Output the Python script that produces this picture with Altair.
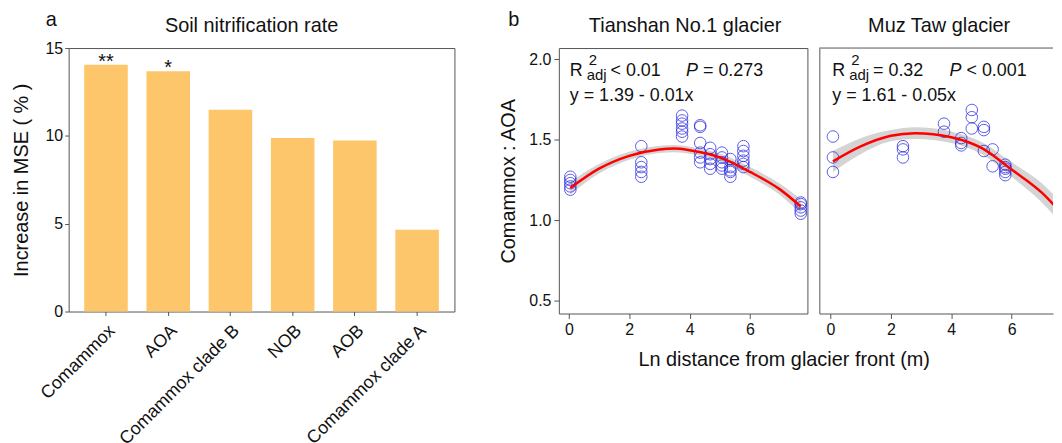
import altair as alt
import pandas as pd

FONT = "Liberation Sans"
FRAME = "#555555"
INK = "#111111"

# ---------------- panel a data ----------------
categories = ["Comammox", "AOA", "Comammox clade B", "NOB", "AOB", "Comammox clade A"]
mse_increase = [14.05, 13.68, 11.48, 9.88, 9.73, 4.65]
significance = ["**", "*", "", "", "", ""]

# ---------------- panel b data ----------------
ts_dist = [0.05, 0.05, 0.05, 0.05, 0.05,
           2.4, 2.4, 2.4, 2.4, 2.4,
           3.75, 3.75, 3.75, 3.75, 3.75, 3.75,
           4.35, 4.35, 4.35, 4.35, 4.35, 4.35,
           4.68, 4.68, 4.68, 4.68, 4.68,
           5.07, 5.07, 5.07, 5.07, 5.07,
           5.35, 5.35, 5.35, 5.35, 5.35,
           5.78, 5.78, 5.78, 5.78, 5.78, 5.78,
           7.68, 7.68, 7.68, 7.68, 7.68]
ts_ratio = [1.19, 1.21, 1.23, 1.25, 1.27,
            1.46, 1.36, 1.33, 1.30, 1.27,
            1.65, 1.62, 1.60, 1.57, 1.55, 1.52,
            1.59, 1.58, 1.48, 1.42, 1.39, 1.36,
            1.45, 1.41, 1.38, 1.35, 1.32,
            1.42, 1.39, 1.36, 1.34, 1.32,
            1.38, 1.33, 1.31, 1.30, 1.27,
            1.46, 1.43, 1.40, 1.37, 1.35, 1.33,
            1.11, 1.10, 1.08, 1.06, 1.04]

ts_fit_x = [0.05, 1, 2, 3, 3.5, 4, 5, 6, 7, 7.68]
ts_fit_y = [1.20, 1.32, 1.40, 1.44, 1.445, 1.435, 1.39, 1.30, 1.19, 1.085]
ts_fit_lo = [1.16, 1.29, 1.375, 1.418, 1.423, 1.413, 1.365, 1.27, 1.155, 1.04]
ts_fit_hi = [1.24, 1.35, 1.425, 1.462, 1.467, 1.457, 1.415, 1.33, 1.225, 1.13]

mz_dist = [0.08, 0.08, 0.08,
           2.4, 2.4, 2.4,
           3.76, 3.76,
           4.33, 4.33, 4.33,
           4.68, 4.68, 4.68,
           5.08, 5.08, 5.08,
           5.37, 5.37,
           5.79, 5.79, 5.79, 5.79, 5.79,
           7.68, 7.68, 7.68]
mz_ratio = [1.52, 1.39, 1.30,
            1.46, 1.44, 1.39,
            1.60, 1.55,
            1.51, 1.48, 1.465,
            1.685, 1.64, 1.57,
            1.58, 1.56, 1.43,
            1.44, 1.335,
            1.345, 1.33, 1.32, 1.30, 1.28,
            1.08, 1.05, 1.03]

mz_fit_x = [0.08, 1, 2, 2.8, 4, 5, 6, 7, 7.68]
mz_fit_y = [1.366, 1.459, 1.525, 1.541, 1.516, 1.449, 1.315, 1.171, 1.037]
mz_fit_lo = [1.30, 1.41, 1.49, 1.505, 1.48, 1.412, 1.27, 1.11, 0.97]
mz_fit_hi = [1.43, 1.51, 1.56, 1.577, 1.552, 1.486, 1.36, 1.23, 1.10]

# ---------------- helpers ----------------
def label(txt, x, y, size=18, style="normal", align="left", opacity=1.0):
    return alt.Chart(pd.DataFrame({"t": [txt]})).mark_text(
        font=FONT, fontSize=size, fontStyle=style, align=align,
        baseline="alphabetic", color=INK, opacity=opacity
    ).encode(x=alt.value(x), y=alt.value(y), text="t:N")


# ---------------- panel a ----------------
bar_df = pd.DataFrame({"cat": categories, "mse": mse_increase, "sig": significance})
xa = alt.X("cat:N", sort=categories,
           scale=alt.Scale(paddingInner=0.3, paddingOuter=0.25),
           axis=alt.Axis(title=None, labelAngle=-45, labelAlign="right",
                         labelBaseline="top", labelFontSize=18, labelOffset=0,
                         tickSize=4, labelPadding=6, domain=False))
ya = alt.Y("mse:Q", scale=alt.Scale(domain=[0, 15], nice=False),
           axis=alt.Axis(values=[0, 5, 10, 15], title="Increase in MSE ( % )",
                         tickSize=4, labelPadding=2, titlePadding=14, domain=False))

bars = alt.Chart(bar_df).mark_bar(color="#FEC66A").encode(x=xa, y=ya)
stars = alt.Chart(bar_df).mark_text(font=FONT, fontSize=20, baseline="alphabetic",
                                    dy=3, color=INK).encode(
    x=alt.X("cat:N", sort=categories), y="mse:Q", text="sig:N")

panel_a = alt.layer(
    bars, stars,
    label("a", -23, -22, size=20),
    label("Soil nitrification rate", 184, -16.5, size=20, align="center"),
).properties(width=388, height=265)

# ---------------- panel b ----------------
def glacier_panel(dist, ratio, fx, fy, flo, fhi, dom, first, ann):
    xs = alt.Scale(domain=dom, nice=False, zero=False)
    ys = alt.Scale(domain=[0.42, 2.07], nice=False, zero=False)
    xaxis = alt.Axis(values=[0, 2, 4, 6], title=None, tickSize=5, labelPadding=3,
                     domain=not first, domainColor=FRAME)
    if first:
        yaxis = alt.Axis(values=[0.5, 1.0, 1.5, 2.0], format=".1f",
                         title="Comammox : AOA", tickSize=5, labelPadding=3,
                         titlePadding=10, domain=False)
    else:
        yaxis = alt.Axis(labels=False, ticks=False, title=None, domain=True,
                         domainColor=FRAME)
    fit_df = pd.DataFrame({"x": fx, "fit": fy, "lo": flo, "hi": fhi})
    pt_df = pd.DataFrame({"d": dist, "r": ratio})
    band = alt.Chart(fit_df).mark_area(color="#d4d4d4", interpolate="monotone",
                                       clip=True).encode(
        x=alt.X("x:Q", scale=xs, axis=xaxis),
        y=alt.Y("lo:Q", scale=ys, axis=yaxis), y2="hi:Q")
    pts = alt.Chart(pt_df).mark_point(shape="circle", filled=False, size=135,
                                      strokeWidth=1, color="#1a1ae0",
                                      clip=True).encode(x="d:Q", y="r:Q")
    line = alt.Chart(fit_df).mark_line(color="#ff0000", strokeWidth=2.5,
                                       interpolate="monotone", clip=True).encode(
        x="x:Q", y="fit:Q")
    return [band, pts, line] + ann


ts_ann = [
    label("R", 11, 27.7),
    label("adj", 28, 32.5, size=15),
    label("2", 30, 17.5, size=15),
    label("< 0.01", 52, 27.7),
    label("P", 128, 27.7, style="italic"),
    label("= 0.273", 145, 27.7),
    label("y = 1.39 - 0.01x", 11, 53.5),
    label("b", -51, -22, size=20),
    label("Tianshan No.1 glacier", 127, -16, size=20, align="center"),
]
mz_ann = [
    label("R", 13, 27.7),
    label("adj", 30, 32.5, size=15),
    label("2", 32, 17.5, size=15),
    label("= 0.32", 54, 27.7),
    label("P", 131, 27.7, style="italic"),
    label("< 0.001", 148, 27.7),
    label("y = 1.61 - 0.05x", 13, 53.5),
    label("b", 10, -22, size=20, opacity=0.0),
    label("Muz Taw glacier", 120.5, -16, size=20, align="center"),
]

ts_chart = alt.layer(*glacier_panel(ts_dist, ts_ratio, ts_fit_x, ts_fit_y, ts_fit_lo,
                                    ts_fit_hi, [-0.33, 7.9], True, ts_ann)
                     ).properties(width=250, height=267)

mz_top = alt.Chart(pd.DataFrame({"t": [0]})).mark_rule(color=FRAME, strokeWidth=1).encode(
    x=alt.value(0), x2=alt.value(235), y=alt.value(0))
mz_chart = alt.layer(*(glacier_panel(mz_dist, mz_ratio, mz_fit_x, mz_fit_y, mz_fit_lo,
                                     mz_fit_hi, [-0.37, 7.37], False, mz_ann) + [mz_top])
                     ).properties(width=235, height=267,
                                  view=alt.ViewBackground(stroke="transparent"))

panel_b = alt.hconcat(ts_chart, mz_chart, spacing=10).properties(
    title=alt.TitleParams("Ln distance from glacier front (m)", orient="bottom",
                          font=FONT, fontSize=20, fontWeight="normal", color=INK,
                          anchor="middle", baseline="top", offset=12, dx=8))

chart = alt.hconcat(panel_a, panel_b, spacing=43).properties(
    padding={"left": 2, "top": 0, "right": 0, "bottom": 0}
).configure(font=FONT).configure_view(
    stroke=FRAME, strokeWidth=1
).configure_axis(
    grid=False, domainColor=FRAME, tickColor=FRAME, labelColor=INK,
    titleColor=INK, labelFont=FONT, titleFont=FONT, labelFontSize=16,
    titleFontSize=20, titleFontWeight="normal"
)

chart.save("out.html", embed_options={"renderer": "svg", "actions": False})
